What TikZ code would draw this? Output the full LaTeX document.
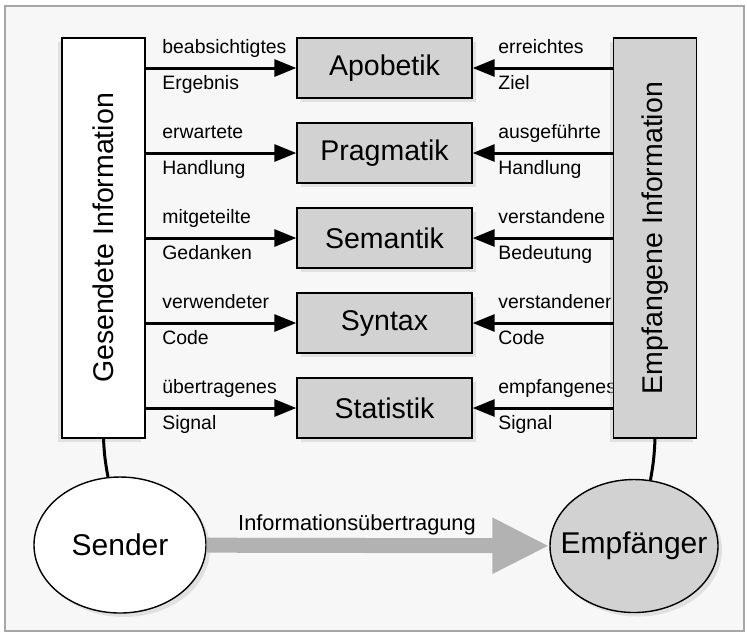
\documentclass[tikz,border=0pt]{standalone}
\usepackage{fontspec}
\setmainfont{Liberation Sans}
\usetikzlibrary{arrows.meta,positioning,shapes,shapes.geometric,shadows}
\usepackage{xcolor}

\begin{document}
\begin{tikzpicture}[x=0.5pt, y=-0.5pt,
    >={Triangle[length=11pt, width=8.5pt]},
    stufe/.style={
        rectangle,
        draw,
        line width=0.7pt,
        fill=gray!35,
        minimum width=87.5pt,
        minimum height=30pt,
        inner sep=0pt,
        font=\fontsize{14.25}{16}\selectfont,
        drop shadow={shadow xshift=2pt, shadow yshift=-2pt, fill=gray!40}
    },
    seite/.style={
        rectangle,
        draw,
        line width=0.7pt,
        rotate=90,
        minimum width=200pt,
        minimum height=41.5pt,
        inner sep=0pt,
        font=\fontsize{14.25}{16}\selectfont,
        drop shadow={shadow xshift=-2pt, shadow yshift=-2pt, fill=gray!40}
    },
    partner/.style={
        ellipse,
        draw,
        line width=0.7pt,
        inner xsep=-9pt,
        inner ysep=-4pt,
        font=\fontsize{15}{17}\selectfont,
        drop shadow={shadow xshift=2pt, shadow yshift=-2pt, fill=gray!40}
    },
    beschriftung/.style={anchor=base west, inner sep=0pt, font=\fontsize{9.7}{11}\selectfont},
    pfeil/.style={->, line width=1.5pt}
]
    \useasboundingbox (0,0) rectangle (747,634);
    \draw[gray!70, line width=0.6pt, fill=gray!6] (5,6) rectangle (744,631);



    \node (apobetik) [stufe, shift={(384.5, 68)}]
    {
        Apobetik
    };
    \node (pragmatik) [stufe, shift={(384.5, 153)}]
    {
        Pragmatik
    };
    \node (semantik) [stufe, shift={(384.5, 238)}]
    {
        Semantik
    };
    \node (syntax) [stufe, shift={(384.5, 323)}]
    {
        Syntax
    };
    \node (statistik) [stufe, shift={(384.5, 408)}]
    {
        Statistik
    };



    \node (beabsichtigtes) [beschriftung, shift={(162, 53)}] {beabsichtigtes};
    \node (ergebnis) [beschriftung, shift={(162, 89)}] {Ergebnis};
    \node (erwartete) [beschriftung, shift={(162, 138)}] {erwartete};
    \node (handlung_s) [beschriftung, shift={(162, 174)}] {Handlung};
    \node (mitgeteilte) [beschriftung, shift={(162, 223)}] {mitgeteilte};
    \node (gedanken) [beschriftung, shift={(162, 259)}] {Gedanken};
    \node (verwendeter) [beschriftung, shift={(162, 308)}] {verwendeter};
    \node (code_s) [beschriftung, shift={(162, 344)}] {Code};
    \node (uebertragenes) [beschriftung, shift={(162, 393)}] {übertragenes};
    \node (signal_s) [beschriftung, shift={(162, 429)}] {Signal};

    \node (erreichtes) [beschriftung, shift={(498, 53)}] {erreichtes};
    \node (ziel) [beschriftung, shift={(498, 89)}] {Ziel};
    \node (ausgefuehrte) [beschriftung, shift={(498, 138)}] {ausgeführte};
    \node (handlung_e) [beschriftung, shift={(498, 174)}] {Handlung};
    \node (verstandene) [beschriftung, shift={(498, 223)}] {verstandene};
    \node (bedeutung) [beschriftung, shift={(498, 259)}] {Bedeutung};
    \node (verstandener) [beschriftung, shift={(498, 308)}] {verstandener};
    \node (code_e) [beschriftung, shift={(498, 344)}] {Code};
    \node (empfangenes) [beschriftung, shift={(498, 393)}] {empfangenes};
    \node (signal_e) [beschriftung, shift={(498, 429)}] {Signal};



    \node (gesendet) [shift={(103.5, 238)}, seite, fill=white]
    {
        Gesendete Information
    };
    \node (empfangen) [shift={(655, 238)}, seite, fill=gray!35]
    {
        Empfangene Information
    };



    \node (sender) [shift={(120, 545)}, partner, fill=white, minimum width=86pt, minimum height=68pt]
    {
        Sender
    };
    \node (empfaenger) [shift={(634, 546)}, partner, fill=gray!35, minimum width=84pt, minimum height=66.5pt]
    {
        Empfänger
    };
    \node (informationsuebertragung) [shift={(357, 525)}, inner sep=0pt, font=\fontsize{10.9}{12}\selectfont]
    {
        Informationsübertragung
    };




    \draw[pfeil] (apobetik.west -| gesendet.south) to (apobetik.west);
    \draw[pfeil] (pragmatik.west -| gesendet.south) to (pragmatik.west);
    \draw[pfeil] (semantik.west -| gesendet.south) to (semantik.west);
    \draw[pfeil] (syntax.west -| gesendet.south) to (syntax.west);
    \draw[pfeil] (statistik.west -| gesendet.south) to (statistik.west);

    \draw[pfeil] (apobetik.east -| empfangen.north) to (apobetik.east);
    \draw[pfeil] (pragmatik.east -| empfangen.north) to (pragmatik.east);
    \draw[pfeil] (semantik.east -| empfangen.north) to (semantik.east);
    \draw[pfeil] (syntax.east -| empfangen.north) to (syntax.east);
    \draw[pfeil] (statistik.east -| empfangen.north) to (statistik.east);

    \draw[line width=1.5pt] (gesendet.west) to[bend right=4] (sender.100);
    \draw[line width=1.5pt] (empfangen.west) to[bend left=4] (empfaenger.76);

    \draw[-{Triangle[length=28.5pt, width=26pt]}, line width=7.5pt, gray!60] (sender) to (empfaenger);


\end{tikzpicture}
\end{document}
